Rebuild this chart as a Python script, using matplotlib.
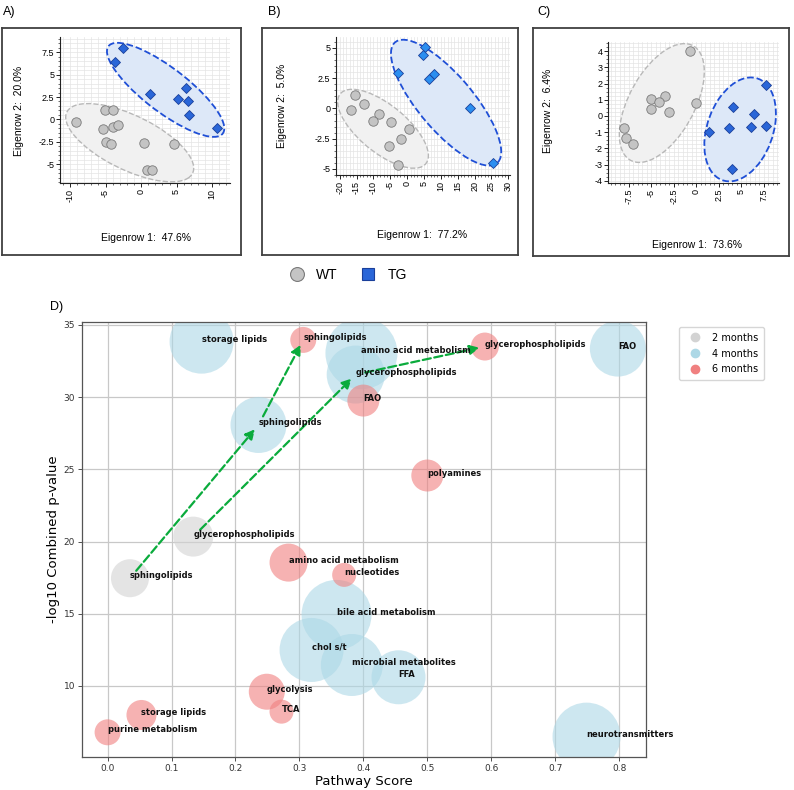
import numpy as np
import matplotlib
matplotlib.use('Agg')
import matplotlib.pyplot as plt
from matplotlib.patches import Ellipse
from matplotlib.lines import Line2D
import matplotlib.transforms as transforms
from matplotlib.ticker import MultipleLocator, FuncFormatter

W, H = 794, 790

# ---- PCA panels (A, B, C) ----
a_wt_x = [-9.2, -5.1, -3.9, -5.3, -3.9, -3.3, -4.9, -4.2, 0.4, 4.6, 0.9, 1.5]
a_wt_y = [-0.3, 1.0, 1.0, -1.1, -0.8, -0.6, -2.5, -2.8, -2.6, -2.8, -5.7, -5.6]
a_tg_x = [-2.5, -3.7, 1.2, 5.2, 6.3, 6.6, 6.8, 10.7]
a_tg_y = [8.0, 6.4, 2.8, 2.3, 3.5, 2.1, 0.5, -1.0]

b_wt_x = [-15.5, -16.7, -12.8, -8.4, -10.0, -4.8, 0.5, -1.8, -5.4, -2.6]
b_wt_y = [1.08, -0.14, 0.33, -0.42, -1.06, -1.14, -1.67, -2.53, -3.08, -4.67]
b_tg_x = [-2.6, 5.3, 4.8, 8.0, 6.5, 18.7, 25.6]
b_tg_y = [2.89, 5.06, 4.42, 2.83, 2.42, 0.06, -4.53]

c_wt_x = [-0.69, -0.02, -5.0, -3.5, -4.1, -5.0, -3.0, -8.0, -7.8, -7.06]
c_wt_y = [4.02, 0.82, 1.03, 1.23, 0.88, 0.41, 0.27, -0.76, -1.33, -1.72]
c_tg_x = [7.76, 4.13, 6.4, 3.69, 6.06, 7.76, 1.46, 3.98]
c_tg_y = [1.91, 0.53, 0.10, -0.76, -0.70, -0.62, -1.0, -3.28]

# group ellipses: centre x, centre y, half-range x, half-range y, correlation
a_wt_ell = [-1.6, -2.6, 9.0, 4.37, -0.65]
a_tg_ell = [3.45, 3.3, 8.25, 5.25, -0.82]
b_wt_ell = [-7.15, -1.68, 13.45, 3.26, -0.68]
b_tg_ell = [11.55, 0.475, 16.35, 5.2, -0.78]
c_wt_ell = [-3.82, 0.8, 4.72, 3.67, 0.53]
c_tg_ell = [4.885, -0.83, 3.98, 3.21, 0.3]

pc1 = ['47.6%', '77.2%', '73.6%']
pc2 = ['20.0%', '5.0%', '6.4%']

# ---- bubble panel (D) ----
groups = ['2 months', '4 months', '6 months']
colors = ['lightgray', 'lightblue', 'lightcoral']

m2_names = ['sphingolipids', 'glycerophospholipids']
m2_x = [0.035, 0.134]
m2_y = [17.46, 20.34]
m2_s = [749, 829]

m4_names = ['storage lipids', 'sphingolipids', 'amino acid metabolism', 'glycerophospholipids', 'FAO',
            'bile acid metabolism', 'chol s/t', 'microbial metabolites', 'FFA', 'neurotransmitters']
m4_x = [0.147, 0.236, 0.397, 0.388, 0.798, 0.358, 0.319, 0.382, 0.455, 0.749]
m4_y = [33.84, 28.07, 33.04, 31.56, 33.36, 14.92, 12.49, 11.45, 10.6, 6.49]
m4_s = [2123, 1626, 2687, 1744, 1626, 2540, 2123, 1993, 1512, 2397]

m6_names = ['sphingolipids', 'glycerophospholipids', 'FAO', 'polyamines', 'amino acid metabolism',
            'nucleotides', 'glycolysis', 'TCA', 'storage lipids', 'purine metabolism']
m6_x = [0.306, 0.59, 0.4, 0.5, 0.283, 0.37, 0.249, 0.272, 0.053, 0.0]
m6_y = [33.96, 33.5, 29.76, 24.57, 18.54, 17.69, 9.6, 8.22, 7.99, 6.79]
m6_s = [350, 406, 531, 531, 749, 299, 672, 299, 467, 350]

arrows = [('2 months', 'sphingolipids', '4 months'),
          ('4 months', 'sphingolipids', '6 months'),
          ('2 months', 'glycerophospholipids', '4 months'),
          ('4 months', 'glycerophospholipids', '6 months')]


def px(l, t, r, b):
    return [l / W, 1 - b / H, (r - l) / W, (b - t) / H]


def group_ellipse(ax, ell, **kw):
    cx, cy, sx, sy, p = ell
    e = Ellipse((0, 0), 2 * np.sqrt(1 + p), 2 * np.sqrt(1 - p), **kw)
    tr = transforms.Affine2D().rotate_deg(45).scale(sx, sy).translate(cx, cy)
    e.set_transform(tr + ax.transData)
    ax.add_patch(e)


fig = plt.figure(figsize=(W / 100, H / 100), dpi=100)
sans = 'Liberation Sans'

panels = [
    dict(box=(2, 28, 241, 255), ax=(60, 37, 230, 183), xlim=(-11.4, 12.5), ylim=(-7.1, 9.2),
         xmaj=5, xmin=1, ymaj=2.5, ymin=0.5, wt=(a_wt_x, a_wt_y), tg=(a_tg_x, a_tg_y), ell=(a_wt_ell, a_tg_ell),
         tgc='#2a66d8', lab='A)', labxy=(3, 12), xl=(146, 238), yl=(19, 111)),
    dict(box=(262, 28, 518, 255), ax=(336, 37, 510, 175), xlim=(-21.1, 30.5), ylim=(-5.5, 5.9),
         xmaj=5, xmin=1, ymaj=2.5, ymin=0.5, wt=(b_wt_x, b_wt_y), tg=(b_tg_x, b_tg_y), ell=(b_wt_ell, b_tg_ell),
         tgc='#2b8ef0', lab='B)', labxy=(268, 12), xl=(422, 235), yl=(282, 106)),
    dict(box=(533, 28, 789, 256), ax=(608, 42, 779, 183), xlim=(-9.8, 9.2), ylim=(-4.14, 4.57),
         xmaj=2.5, xmin=0.5, ymaj=1, ymin=0.25, wt=(c_wt_x, c_wt_y), tg=(c_tg_x, c_tg_y), ell=(c_wt_ell, c_tg_ell),
         tgc='#2a66d8', lab='C)', labxy=(537, 12), xl=(697, 245), yl=(548, 111)),
]

for i, p in enumerate(panels):
    bax = fig.add_axes(px(*p['box']))
    bax.set_xticks([]); bax.set_yticks([])
    for sp in bax.spines.values():
        sp.set_color('#404040'); sp.set_linewidth(1.3)
    ax = fig.add_axes(px(*p['ax']))
    ax.set_xlim(*p['xlim']); ax.set_ylim(*p['ylim'])
    ax.xaxis.set_major_locator(MultipleLocator(p['xmaj']))
    ax.xaxis.set_minor_locator(MultipleLocator(p['xmin']))
    ax.yaxis.set_major_locator(MultipleLocator(p['ymaj']))
    ax.yaxis.set_minor_locator(MultipleLocator(p['ymin']))
    ax.xaxis.set_major_formatter(FuncFormatter(lambda v, pos: '%g' % v))
    ax.yaxis.set_major_formatter(FuncFormatter(lambda v, pos: '%g' % v))
    ax.grid(True, which='both', color='#e4e4e4', lw=0.5)
    ax.set_axisbelow(True)
    for s in ['top', 'right']:
        ax.spines[s].set_visible(False)
    for s in ['left', 'bottom']:
        ax.spines[s].set_color('#222222'); ax.spines[s].set_linewidth(0.8)
    ax.tick_params(which='major', length=3, width=0.6, labelsize=6.5, pad=1)
    ax.tick_params(which='minor', length=1.5, width=0.4)
    ax.tick_params(axis='x', labelrotation=90)
    for t in ax.get_xticklabels() + ax.get_yticklabels():
        t.set_fontfamily(sans)

    group_ellipse(ax, p['ell'][0], facecolor='#f1f1f1', edgecolor='#b8b8b8', ls='--', lw=1.0, zorder=1)
    group_ellipse(ax, p['ell'][1], facecolor='#dde8f8', edgecolor='#1f4fd6', ls='--', lw=1.3, zorder=1)
    ax.plot(*p['wt'], 'o', ms=6.8, mfc='#c4c4c4', mec='#7a7a7a', mew=0.6, zorder=3, clip_on=False)
    ax.plot(*p['tg'], 'D', ms=5.5, mfc=p['tgc'], mec='#1a3f9a', mew=0.6, zorder=3, clip_on=False)

    fig.text(p['labxy'][0] / W, 1 - p['labxy'][1] / H, p['lab'], fontsize=9, family=sans, va='center')
    fig.text(p['xl'][0] / W, 1 - p['xl'][1] / H, 'Eigenrow 1:  ' + pc1[i], fontsize=7.5, family=sans,
             ha='center', va='center')
    fig.text(p['yl'][0] / W, 1 - p['yl'][1] / H, 'Eigenrow 2:  ' + pc2[i], fontsize=7.5, family=sans,
             ha='center', va='center', rotation=90)

# WT / TG legend
handles = [Line2D([], [], marker='o', ls='', ms=10, mfc='#c4c4c4', mec='#7a7a7a', mew=0.8),
           Line2D([], [], marker='s', ls='', ms=9, mfc='#2a66d8', mec='#1a3f9a', mew=0.8)]
fig.legend(handles, ['WT', 'TG'], loc='center', bbox_to_anchor=(345 / W, 1 - 275 / H), ncol=2,
           frameon=False, prop={'family': sans, 'size': 10}, handletextpad=0.4, columnspacing=1.2)

# ---- panel D ----
ax = fig.add_axes(px(82, 322, 646, 757))
data = {'2 months': (m2_names, m2_x, m2_y, m2_s),
        '4 months': (m4_names, m4_x, m4_y, m4_s),
        '6 months': (m6_names, m6_x, m6_y, m6_s)}
for g, c in zip(groups, colors):
    names, xs, ys, ss = data[g]
    ax.scatter(xs, ys, s=ss, color=c, alpha=0.6, edgecolors='none', zorder=2)
    for n, xv, yv in zip(names, xs, ys):
        ax.text(xv, yv, n, fontsize=6, fontweight='bold', color='#111111', zorder=5)

for g1, n, g2 in arrows:
    n1, x1, y1, _ = data[g1]
    n2, x2, y2, _ = data[g2]
    i1 = n1.index(n); i2 = n2.index(n)
    ax.annotate('', xy=(x2[i2], y2[i2]), xytext=(x1[i1], y1[i1]), zorder=4,
                arrowprops=dict(arrowstyle='-|>', color='#0aab3c', lw=1.6, ls='--',
                                mutation_scale=14, shrinkA=7, shrinkB=4))

ax.set_xlim(-0.04, 0.842)
ax.set_ylim(5.08, 35.2)
ax.set_xticks(np.arange(0, 0.81, 0.1))
ax.set_yticks([10, 15, 20, 25, 30, 35])
ax.grid(True, color='#c8c8c8', lw=0.9)
ax.set_axisbelow(True)
for sp in ax.spines.values():
    sp.set_color('#555555'); sp.set_linewidth(0.9)
ax.tick_params(labelsize=6.5, colors='#333333', length=3, width=0.6, pad=2)
ax.set_xlabel('Pathway Score', fontsize=9.5, va='center')
ax.xaxis.set_label_coords(0.5, -24 / 435)
ax.set_ylabel('-log10 Combined p-value', fontsize=9.5, va='center')
ax.yaxis.set_label_coords(-28 / 564, 0.5)
fig.text(50 / W, 1 - 307 / H, 'D)', fontsize=9, family=sans, va='center')

lh = [Line2D([], [], marker='o', ls='', ms=6, color=c) for c in colors]
ax.legend(lh, groups, loc='upper left', bbox_to_anchor=(1.05, 1.0), fontsize=7, handletextpad=0.8,
          borderpad=0.6, labelspacing=0.6)

fig.savefig('out.png', dpi=100)
